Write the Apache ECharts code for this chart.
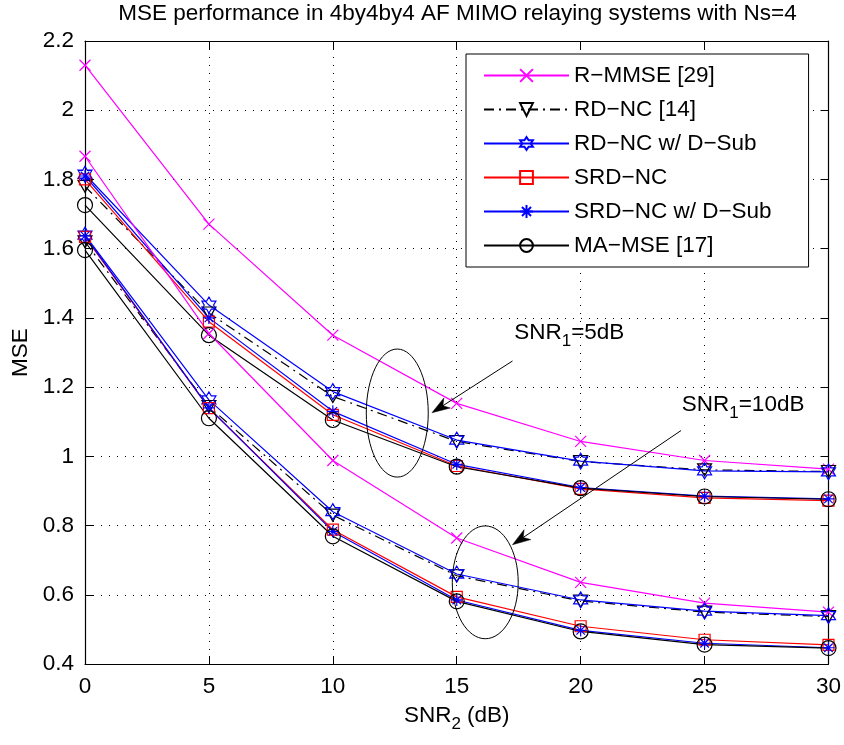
<!DOCTYPE html>
<html><head><meta charset="utf-8">
<script src="https://cdn.jsdelivr.net/npm/echarts@6/dist/echarts.min.js"></script>
<style>html,body{margin:0;padding:0;background:#fff}#c{width:844px;height:745px}</style>
</head><body><div id="c"></div>
<script>
// ---- data ----
const snr = [0, 5, 10, 15, 20, 25, 30];
const seriesNames = ['R\u2212MMSE [29]', 'RD\u2212NC [14]', 'RD\u2212NC w/ D\u2212Sub', 'SRD\u2212NC', 'SRD\u2212NC w/ D\u2212Sub', 'MA\u2212MSE [17]'];
// SNR1 = 5 dB
const rmmse5   = [2.13, 1.671, 1.35, 1.153, 1.043, 0.988, 0.963];
const rdnc5    = [1.78, 1.414, 1.173, 1.043, 0.985, 0.961, 0.956];
const rdncD5   = [1.815, 1.437, 1.187, 1.047, 0.986, 0.958, 0.955];
const srdnc5   = [1.80, 1.389, 1.12, 0.972, 0.906, 0.880, 0.872];
const srdncD5  = [1.81, 1.40, 1.13, 0.977, 0.91, 0.885, 0.877];
const mamse5   = [1.726, 1.35, 1.105, 0.97, 0.908, 0.884, 0.876];
// SNR1 = 10 dB
const rmmse10  = [1.867, 1.355, 0.988, 0.764, 0.636, 0.576, 0.55];
const rdnc10   = [1.62, 1.144, 0.83, 0.655, 0.582, 0.55, 0.537];
const rdncD10  = [1.639, 1.163, 0.84, 0.66, 0.585, 0.553, 0.54];
const srdnc10  = [1.634, 1.139, 0.788, 0.594, 0.509, 0.47, 0.455];
const srdncD10 = [1.637, 1.14, 0.783, 0.585, 0.497, 0.46, 0.447];
const mamse10  = [1.596, 1.11, 0.769, 0.581, 0.494, 0.456, 0.446];
const xTicks = [0, 5, 10, 15, 20, 25, 30];
const yTicks = [0.4, 0.6, 0.8, 1, 1.2, 1.4, 1.6, 1.8, 2, 2.2];

const FONT = '"Liberation Sans", Arial, Helvetica, sans-serif';
const FS = 22.5;

function hexPath() {
  const p = [];
  for (let i = 0; i < 12; i++) {
    const r = i % 2 === 0 ? 10 : 5.774;
    const a = -Math.PI / 2 + i * Math.PI / 6;
    p.push((10 + r * Math.cos(a)).toFixed(2) + ',' + (10 + r * Math.sin(a)).toFixed(2));
  }
  return 'path://M' + p.join('L') + 'Z';
}
const X_SYM = 'path://M0,0L10,10M10,0L0,10';
const AST_SYM = 'path://M5,0L5,10M0,5L10,5M1.46,1.46L8.54,8.54M8.54,1.46L1.46,8.54';
const HEX_SYM = hexPath();

const styles = [
  { color: '#ff00ff', symbol: X_SYM, size: 11, type: 'solid' },
  { color: '#000000', symbol: 'triangle', rotate: 180, size: [14, 12], type: [10, 5, 2, 5] },
  { color: '#0000ff', symbol: HEX_SYM, size: [14, 16], type: 'solid' },
  { color: '#ff0000', symbol: 'rect', size: 11, type: 'solid' },
  { color: '#0000ff', symbol: AST_SYM, size: 12, type: 'solid' },
  { color: '#000000', symbol: 'circle', size: 15, type: 'solid' }
];
const group5 = [rmmse5, rdnc5, rdncD5, srdnc5, srdncD5, mamse5];
const group10 = [rmmse10, rdnc10, rdncD10, srdnc10, srdncD10, mamse10];

function mkSeries(i, vals) {
  const s = styles[i];
  return {
    name: seriesNames[i], type: 'line',
    data: snr.map((x, k) => [x, vals[k]]),
    symbol: s.symbol, symbolSize: s.size, symbolRotate: s.rotate || 0,
    showSymbol: true, showAllSymbol: true,
    itemStyle: { color: 'none', borderColor: s.color, borderWidth: 1.2 },
    lineStyle: { color: s.color, width: 1.2, type: s.type },
    emphasis: { disabled: true }, silent: true, animation: false
  };
}
const series = [];
group5.forEach((v, i) => series.push(mkSeries(i, v)));
group10.forEach((v, i) => series.push(mkSeries(i, v)));

const fmt = v => String(parseFloat(Number(v).toFixed(2)));

const chart = echarts.init(document.getElementById('c'));
const baseAxis = {
  axisLine: { show: true, onZero: false, lineStyle: { color: '#000', width: 1.2 } },
  axisTick: { show: true, inside: true, length: 8, lineStyle: { color: '#000', width: 1 } }
};
chart.setOption({
  animation: false,
  backgroundColor: '#fff',
  title: {
    text: 'MSE performance in 4by4by4 AF MIMO relaying systems with Ns=4',
    left: 457.5, textAlign: 'center', top: 2, padding: 0,
    textStyle: { fontSize: FS, fontWeight: 'normal', color: '#000', fontFamily: FONT }
  },
  grid: { left: 85, right: 14, top: 41, bottom: 81, containLabel: false },
  legend: {
    data: seriesNames, orient: 'vertical', left: 466, top: 54,
    itemWidth: 85, itemHeight: 16, itemGap: 11,
    padding: [10, 37, 10, 17],
    backgroundColor: '#fff', borderColor: '#000', borderWidth: 1,
    selectedMode: false,
    textStyle: { fontSize: FS, color: '#000', fontFamily: FONT }
  },
  xAxis: [
    Object.assign({}, baseAxis, {
      type: 'value', min: 0, max: 30, interval: 5, position: 'bottom',
      axisLabel: { fontSize: FS, color: '#000', fontFamily: FONT, margin: 11, formatter: fmt, showMinLabel: true, showMaxLabel: true },
      splitLine: { show: true, lineStyle: { color: '#000', width: 1, type: [1, 7] } },
      name: 'SNR{s|2} (dB)', nameLocation: 'middle', nameGap: 35,
      nameTextStyle: { fontSize: FS, color: '#000', fontFamily: FONT,
        rich: { s: { fontSize: 17, fontFamily: FONT, color: '#000', padding: [17, 0, 0, 0] } } }
    }),
    Object.assign({}, baseAxis, {
      type: 'value', min: 0, max: 30, interval: 5, position: 'top',
      axisLabel: { show: false }, splitLine: { show: false }
    })
  ],
  yAxis: [
    Object.assign({}, baseAxis, {
      type: 'value', min: 0.4, max: 2.2, interval: 0.2, position: 'left',
      axisLabel: { fontSize: FS, color: '#000', fontFamily: FONT, margin: 11, formatter: fmt, showMinLabel: true, showMaxLabel: true },
      splitLine: { show: true, lineStyle: { color: '#000', width: 1, type: [1, 7] } },
      name: 'MSE', nameLocation: 'middle', nameGap: 50, nameRotate: 90,
      nameTextStyle: { fontSize: FS, color: '#000', fontFamily: FONT }
    }),
    Object.assign({}, baseAxis, {
      type: 'value', min: 0.4, max: 2.2, interval: 0.2, position: 'right',
      axisLabel: { show: false }, splitLine: { show: false }
    })
  ],
  series: series
});

// ---- annotations (data coordinates) ----
const annEllipses = [
  { x: 12.6, y: 1.125, rx: 1.25, ry: 0.185 },
  { x: 16.15, y: 0.636, rx: 1.33, ry: 0.163 }
];
const annArrows = [
  { from: [17.25, 1.2755], to: [14.0, 1.126] },
  { from: [24.05, 1.0745], to: [17.25, 0.7446] }
];
const annTexts = [
  { x: 17.32, y: 1.356, sub: '1', tail: '=5dB' },
  { x: 24.08, y: 1.149, sub: '1', tail: '=10dB' }
];
const px = p => chart.convertToPixel({ gridIndex: 0 }, p);
const graphics = [];
annEllipses.forEach(e => {
  const c = px([e.x, e.y]);
  const r = px([e.x + e.rx, e.y - e.ry]);
  graphics.push({ type: 'ellipse', silent: true, z: 10,
    shape: { cx: c[0], cy: c[1], rx: r[0] - c[0], ry: r[1] - c[1] },
    style: { fill: 'none', stroke: '#000', lineWidth: 1 } });
});
annArrows.forEach(a => {
  const s = px(a.from), t = px(a.to);
  const dx = t[0] - s[0], dy = t[1] - s[1], len = Math.hypot(dx, dy);
  const ux = dx / len, uy = dy / len, nx = -uy, ny = ux;
  const L = 18, W = 6, N = 5;
  const bx = t[0] - ux * L, by = t[1] - uy * L;
  graphics.push({ type: 'line', silent: true, z: 10,
    shape: { x1: s[0], y1: s[1], x2: t[0] - ux * (L - N), y2: t[1] - uy * (L - N) },
    style: { stroke: '#000', lineWidth: 1 } });
  graphics.push({ type: 'polygon', silent: true, z: 10,
    shape: { points: [[t[0], t[1]], [bx + nx * W, by + ny * W], [t[0] - ux * (L - N), t[1] - uy * (L - N)], [bx - nx * W, by - ny * W]] },
    style: { fill: '#000', stroke: '#000', lineWidth: 0.5 } });
});
annTexts.forEach(tx => {
  const p = px([tx.x, tx.y]);
  graphics.push({ type: 'text', silent: true, z: 10, x: p[0], y: p[1],
    style: { text: '{b|SNR}{s|' + tx.sub + '}{b|' + tx.tail + '}', align: 'left', verticalAlign: 'middle',
      rich: { b: { fontSize: FS, fontFamily: FONT, fill: '#000' }, s: { fontSize: 17, fontFamily: FONT, fill: '#000', padding: [17, 0, 0, 0] } } } });
});
chart.setOption({ graphic: graphics });
</script>
</body></html>
